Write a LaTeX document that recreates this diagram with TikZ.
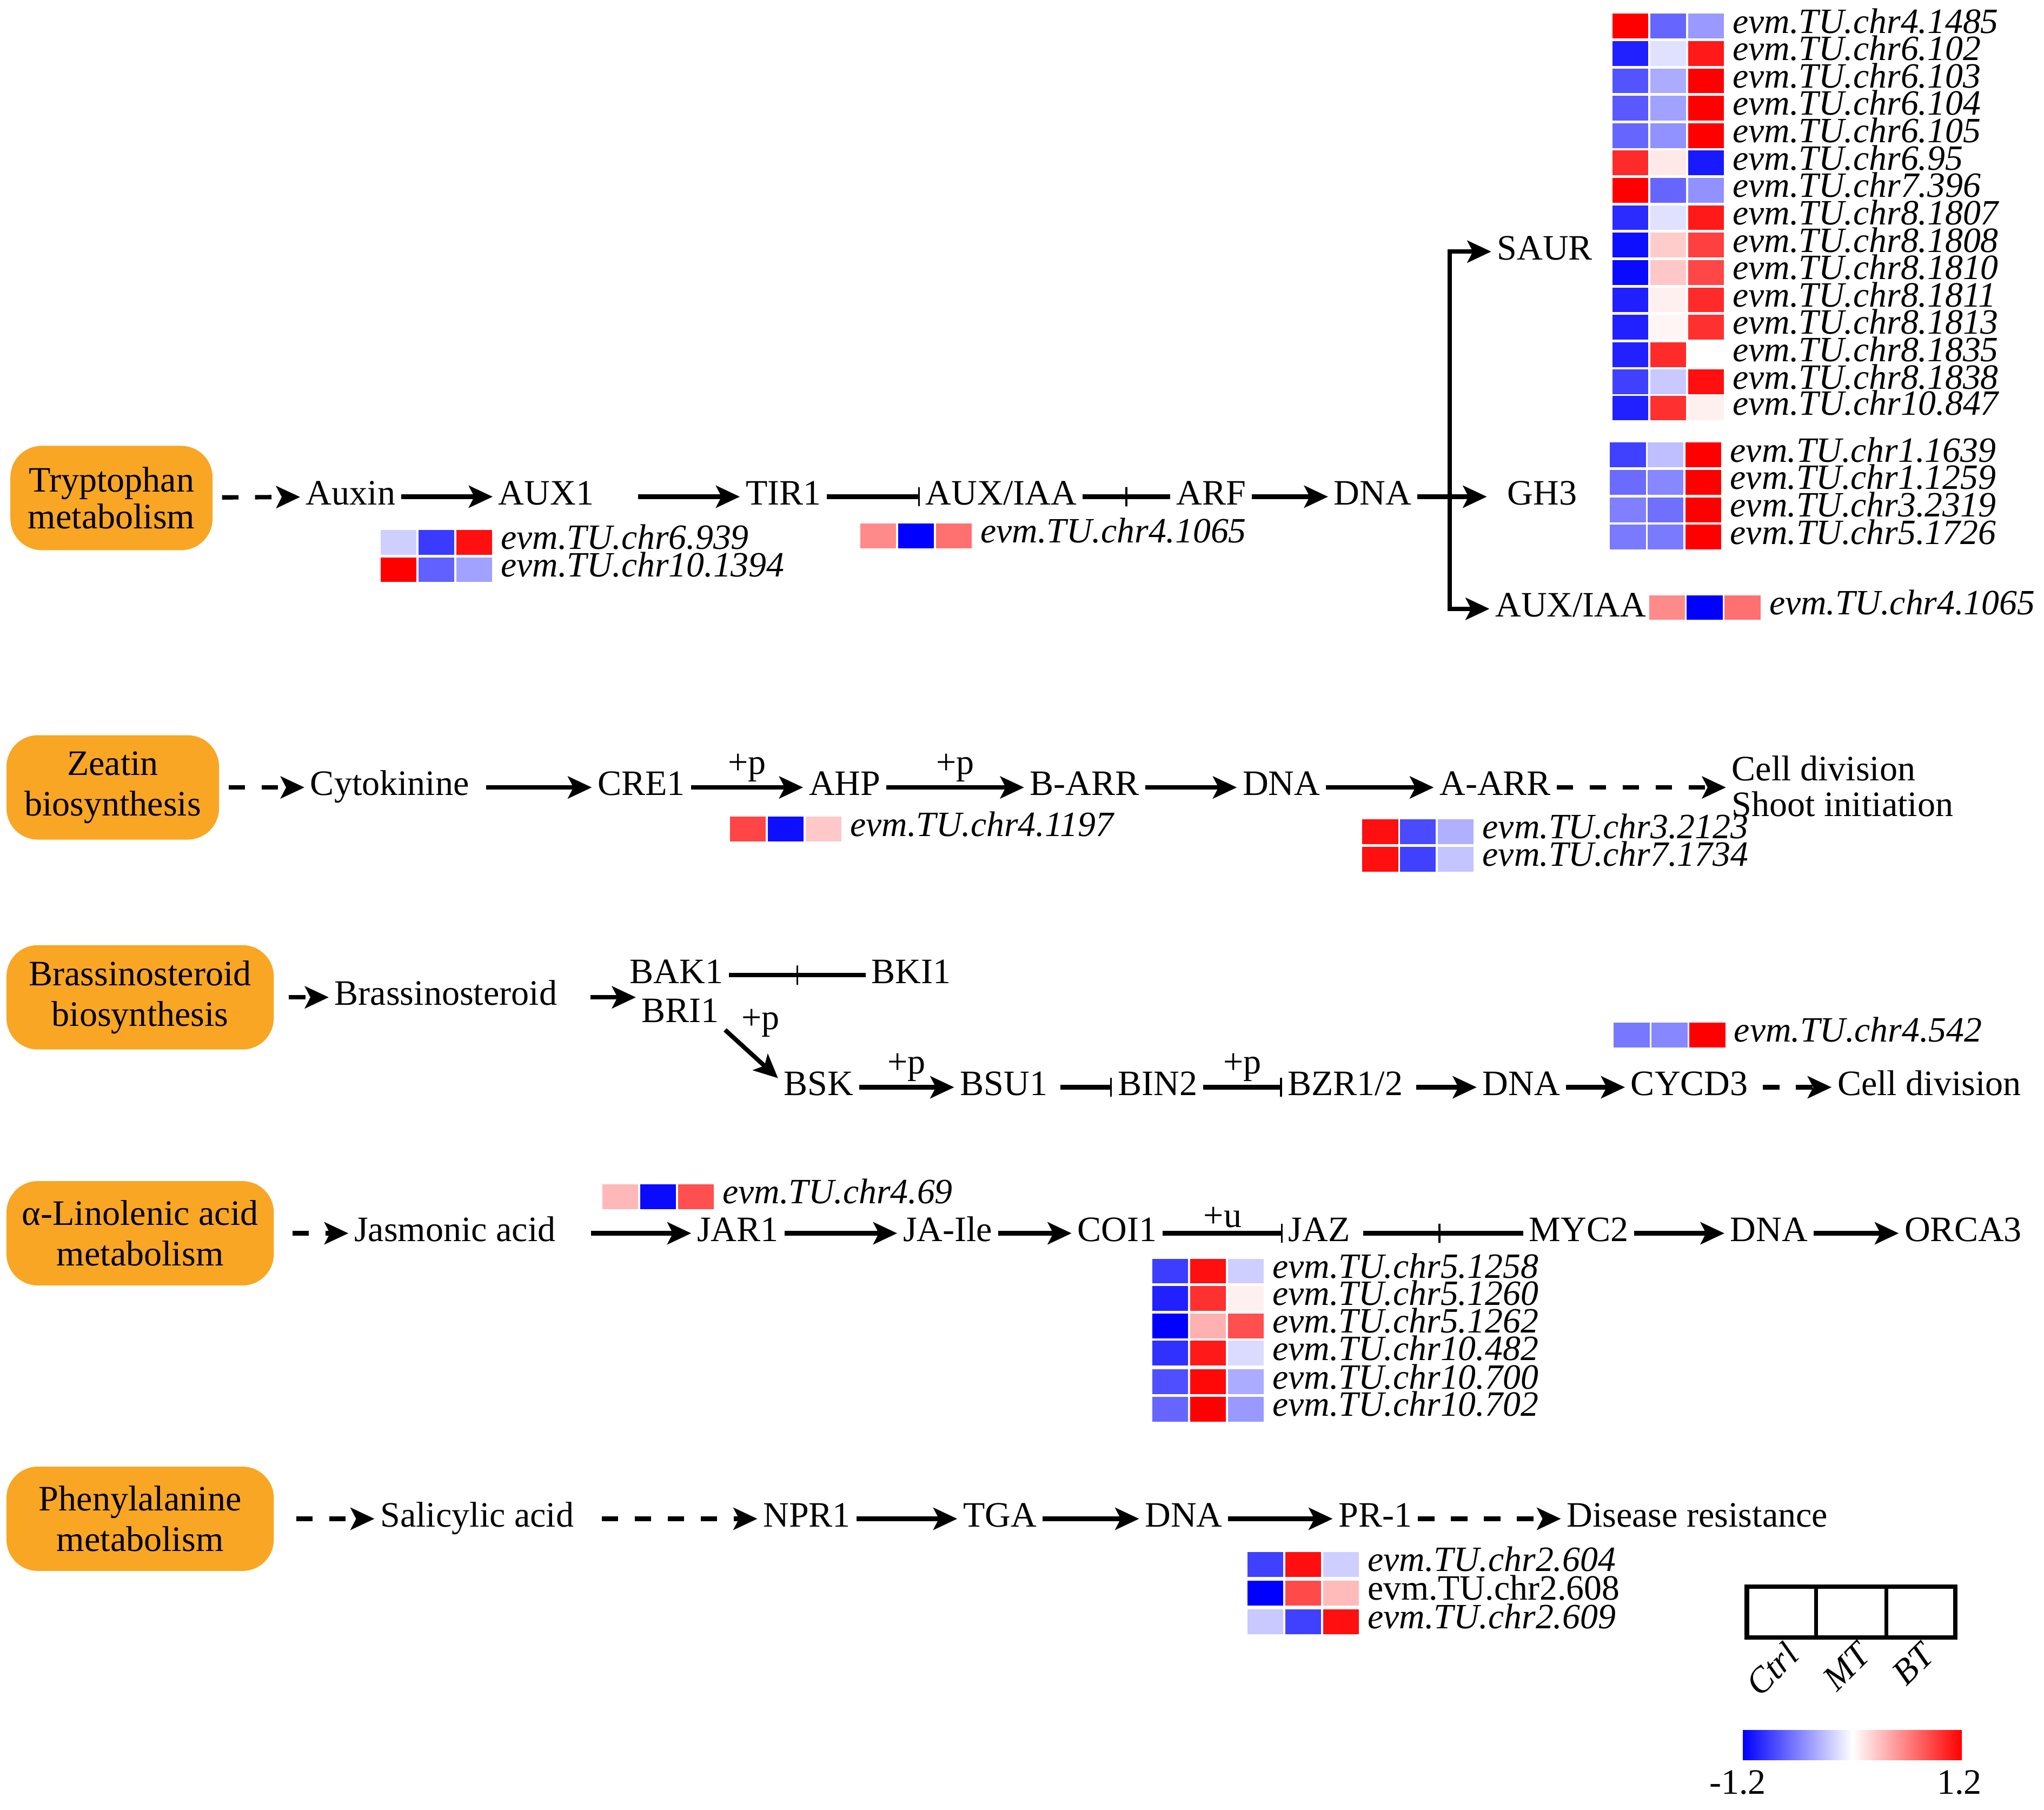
\documentclass[tikz,border=0pt]{standalone}
\usepackage{fontspec}
\setmainfont{Liberation Serif}
\usetikzlibrary{arrows.meta,calc}
\definecolor{boxorange}{RGB}{248,166,36}

% one heatmap row: x, y, three colours, node name, gene label
\newcommand{\hmrow}[7]{%
  \fill[#3] (#1,#2-9.5) rectangle +(27.5,19);
  \fill[#4] (#1+29,#2-9.5) rectangle +(27.5,19);
  \fill[#5] (#1+58,#2-9.5) rectangle +(27.5,19);
  \node[gene] (#6) at (#1+92,#2) {#7};
}

\tikzset{
  every node/.style={font=\fontsize{19.5}{22}\selectfont},
  lbl/.style={inner sep=3pt, text height=2.2ex, text depth=.3ex},
  gene/.style={anchor=west, inner sep=0pt, text height=1.9ex, text depth=.25ex,
    font=\fontsize{19.4}{20}\selectfont\itshape},
  pathbox/.style={fill=boxorange, rounded corners=0.6cm, minimum width=5.125cm,
    minimum height=2cm, align=center, inner sep=2pt},
  act/.style={line width=2.4pt, -{Stealth[length=13pt,width=12pt,inset=3pt]}},
  dashact/.style={act, dash pattern=on 9pt off 9pt},
  inh/.style={line width=2.4pt, -{Bar[width=10.5pt,line width=1pt]}},
  bind/.style={line width=2.4pt},
  tickbar/.style={draw, line width=1pt, inner sep=0pt, minimum width=0pt, minimum height=10.5pt},
  plab/.style={above=1pt, inner sep=1pt},
}

\begin{document}
\begin{tikzpicture}[x=0.025cm, y=-0.025cm]
  \useasboundingbox (0,0) rectangle (1568,1388);

  % Tryptophan metabolism
  \node[pathbox, minimum width=3.875cm, font=\fontsize{19.5}{20}\selectfont] (tryp) at (85.5,382) {Tryptophan\\metabolism};
  \node[lbl] (auxin) at (269,381) {Auxin};
  \node[lbl] (aux1) at (419,381) {AUX1};
  \node[lbl] (tir1) at (601,381) {TIR1};
  \node[lbl] (auxiaa) at (768,381) {AUX/IAA};
  \node[lbl] (arf) at (929,381) {ARF};
  \node[lbl] (dna1) at (1053,381) {DNA};
  \node[lbl] (saur) at (1185,193) {SAUR};
  \node[lbl] (gh3) at (1183,381) {GH3};
  \node[lbl] (auxiaab) at (1205,467) {AUX/IAA};
  \coordinate (jn) at (1112,381);

  \draw[dashact, shorten <=5pt] (tryp) -- (auxin);
  \draw[act] (auxin) -- (aux1);
  \draw[act, shorten <=21pt] (aux1) -- (tir1);
  \draw[inh] (tir1) -- (auxiaa);
  \draw[bind] (auxiaa) -- (arf) node[midway, tickbar] (t1) {};
  \draw[act] (arf) -- (dna1);
  \draw[act, shorten >=8pt] (dna1) -- (gh3);
  \draw[act] (jn |- auxiaab) -- (jn |- saur) -- (saur);
  \draw[act, line cap=rect] (jn |- auxiaab) -- (auxiaab);

  \hmrow{292}{416}{blue!19}{blue!77}{red!94}{ga1}{evm.TU.chr6.939}
  \hmrow{292}{437}{red}{blue!62}{blue!37}{ga2}{evm.TU.chr10.1394}
  \hmrow{660}{411}{red!46}{blue}{red!56}{gi1}{evm.TU.chr4.1065}
  \hmrow{1265}{466}{red!46}{blue}{red!56}{gi2}{evm.TU.chr4.1065}

  \hmrow{1237}{20}{red}{blue!60}{blue!40}{s1}{evm.TU.chr4.1485}
  \hmrow{1237}{41}{blue!87}{blue!12}{red!90}{s2}{evm.TU.chr6.102}
  \hmrow{1237}{62}{blue!67}{blue!33}{red}{s3}{evm.TU.chr6.103}
  \hmrow{1237}{83}{blue!65}{blue!37}{red}{s4}{evm.TU.chr6.104}
  \hmrow{1237}{104}{blue!60}{blue!43}{red}{s5}{evm.TU.chr6.105}
  \hmrow{1237}{125}{red!83}{red!9}{blue!90}{s6}{evm.TU.chr6.95}
  \hmrow{1237}{146}{red}{blue!60}{blue!43}{s7}{evm.TU.chr7.396}
  \hmrow{1237}{167}{blue!83}{blue!12}{red!90}{s8}{evm.TU.chr8.1807}
  \hmrow{1237}{188}{blue!94}{red!20}{red!75}{s9}{evm.TU.chr8.1808}
  \hmrow{1237}{209}{blue!96}{red!22}{red!72}{s10}{evm.TU.chr8.1810}
  \hmrow{1237}{230}{blue!88}{red!6}{red!83}{s11}{evm.TU.chr8.1811}
  \hmrow{1237}{251}{blue!87}{red!4}{red!81}{s12}{evm.TU.chr8.1813}
  \hmrow{1237}{272}{blue!87}{red!83}{white}{s13}{evm.TU.chr8.1835}
  \hmrow{1237}{293}{blue!75}{blue!21}{red!94}{s14}{evm.TU.chr8.1838}
  \hmrow{1237}{313}{blue!87}{red!81}{red!6}{s15}{evm.TU.chr10.847}

  \hmrow{1235}{349}{blue!75}{blue!25}{red}{h1}{evm.TU.chr1.1639}
  \hmrow{1235}{370}{blue!58}{blue!47}{red}{h2}{evm.TU.chr1.1259}
  \hmrow{1235}{391}{blue!50}{blue!56}{red}{h3}{evm.TU.chr3.2319}
  \hmrow{1235}{412}{blue!52}{blue!52}{red}{h4}{evm.TU.chr5.1726}

  % Zeatin biosynthesis
  \node[pathbox, minimum width=4.075cm] (zeat) at (86.5,604) {Zeatin\\biosynthesis};
  \node[lbl] (cytok) at (299,604) {Cytokinine};
  \node[lbl] (cre1) at (492,604) {CRE1};
  \node[lbl] (ahp) at (648,604) {AHP};
  \node[lbl] (barr) at (832,604) {B-ARR};
  \node[lbl] (dna2) at (983,604) {DNA};
  \node[lbl] (aarr) at (1147,604) {A-ARR};
  \node[anchor=west, align=left, inner sep=3pt, font=\fontsize{19.5}{19.5}\selectfont] (celldiv) at (1324,603) {Cell division\\Shoot initiation};

  \draw[dashact, shorten <=5pt] (zeat) -- (cytok);
  \draw[act, shorten <=6pt] (cytok) -- (cre1);
  \draw[act] (cre1) -- (ahp) node[midway, plab] (p1) {+p};
  \draw[act] (ahp) -- (barr) node[midway, plab] (p2) {+p};
  \draw[act] (barr) -- (dna2);
  \draw[act] (dna2) -- (aarr);
  \draw[dashact] (aarr) -- (aarr -| celldiv.west);

  \hmrow{560}{636}{red!73}{blue!94}{red!21}{ah1}{evm.TU.chr4.1197}
  \hmrow{1045}{638}{red!94}{blue!71}{blue!31}{aa1}{evm.TU.chr3.2123}
  \hmrow{1045}{659}{red!94}{blue!75}{blue!23}{aa2}{evm.TU.chr7.1734}

  % Brassinosteroid biosynthesis
  \node[pathbox] (bras) at (107.5,765) {Brassinosteroid\\biosynthesis};
  \node[lbl] (brass) at (342,765) {Brassinosteroid};
  \node[lbl] (bak1) at (519,748) {BAK1};
  \node[lbl] (bri1) at (522,778) {BRI1};
  \node[lbl] (bki1) at (699,748) {BKI1};
  \node[lbl] (bsk) at (628,834) {BSK};
  \node[lbl] (bsu1) at (770,834) {BSU1};
  \node[lbl] (bin2) at (888,834) {BIN2};
  \node[lbl] (bzr) at (1032,834) {BZR1/2};
  \node[lbl] (dna3) at (1167,834) {DNA};
  \node[lbl] (cycd3) at (1296,834) {CYCD3};
  \node[lbl] (celldiv3) at (1480,834) {Cell division};

  \draw[dashact, shorten <=8pt] (bras) -- (brass);
  \draw[act, shorten <=15pt] (brass) -- (brass -| bri1.west);
  \draw[bind] (bak1) -- (bki1) node[midway, tickbar] (t2) {};
  \draw[act] ($(bri1.east)+(0,12)$) -- ($(bsk.west)+(0,-7)$) node[pos=.05, right=3pt, yshift=5pt] (p3) {+p};
  \draw[act] (bsk) -- (bsu1) node[midway, plab] (p4) {+p};
  \draw[inh, shorten <=4pt] (bsu1) -- (bin2);
  \draw[inh] (bin2) -- (bzr) node[midway, plab] (p5) {+p};
  \draw[act, shorten <=4pt] (bzr) -- (dna3);
  \draw[act] (dna3) -- (cycd3);
  \draw[dashact, shorten <=5pt] (cycd3) -- (celldiv3);

  \hmrow{1238}{794}{blue!53}{blue!47}{red}{cy1}{evm.TU.chr4.542}

  % alpha-Linolenic acid metabolism
  \node[pathbox] (lin) at (107.5,946) {α-Linolenic acid\\metabolism};
  \node[lbl] (jasm) at (349,946) {Jasmonic acid};
  \node[lbl] (jar1) at (566,946) {JAR1};
  \node[lbl] (jaile) at (727,946) {JA-Ile};
  \node[lbl] (coi1) at (857,946) {COI1};
  \node[lbl] (jaz) at (1012,946) {JAZ};
  \node[lbl] (myc2) at (1211,946) {MYC2};
  \node[lbl] (dna4) at (1357,946) {DNA};
  \node[lbl] (orca3) at (1506,946) {ORCA3};

  \draw[dashact, shorten <=10pt] (lin) -- (jasm);
  \draw[act, shorten <=16pt] (jasm) -- (jar1);
  \draw[act] (jar1) -- (jaile);
  \draw[act] (jaile) -- (coi1);
  \draw[inh] (coi1) -- (jaz) node[midway, plab] (u1) {+u};
  \draw[bind, shorten <=4pt] (jaz) -- (myc2) node[midway, tickbar] (t3) {};
  \draw[act] (myc2) -- (dna4);
  \draw[act] (dna4) -- (orca3);

  \hmrow{462}{918}{red!28}{blue!96}{red!69}{ja1}{evm.TU.chr4.69}
  \hmrow{884}{975}{blue!76}{red!94}{blue!19}{c1}{evm.TU.chr5.1258}
  \hmrow{884}{996}{blue!87}{red!81}{red!6}{c2}{evm.TU.chr5.1260}
  \hmrow{884}{1017}{blue}{red!31}{red!69}{c3}{evm.TU.chr5.1262}
  \hmrow{884}{1038}{blue!81}{red!90}{blue!14}{c4}{evm.TU.chr10.482}
  \hmrow{884}{1060}{blue!69}{red!97}{blue!33}{c5}{evm.TU.chr10.700}
  \hmrow{884}{1081}{blue!60}{red}{blue!40}{c6}{evm.TU.chr10.702}

  % Phenylalanine metabolism
  \node[pathbox] (phe) at (107.5,1165) {Phenylalanine\\metabolism};
  \node[lbl] (sal) at (366,1165) {Salicylic acid};
  \node[lbl] (npr1) at (619,1165) {NPR1};
  \node[lbl] (tga) at (767,1165) {TGA};
  \node[lbl] (dna5) at (908,1165) {DNA};
  \node[lbl] (pr1) at (1055,1165) {PR-1};
  \node[lbl] (dis) at (1302,1165) {Disease resistance};

  \draw[dashact, shorten <=12pt] (phe) -- (sal);
  \draw[dashact, shorten <=12pt] (sal) -- (npr1);
  \draw[act] (npr1) -- (tga);
  \draw[act] (tga) -- (dna5);
  \draw[act] (dna5) -- (pr1);
  \draw[dashact] (pr1) -- (dis);

  \hmrow{957}{1200}{blue!75}{red!94}{blue!19}{pr1a}{evm.TU.chr2.604}
  \hmrow{957}{1222}{blue}{red!71}{red!27}{pr1b}{\upshape evm.TU.chr2.608}
  \hmrow{957}{1244}{blue!21}{blue!75}{red!94}{pr1c}{evm.TU.chr2.609}

  % legend
  \draw[line width=2.5pt] (1340,1217) rectangle (1500,1256);
  \draw[line width=2pt] (1393,1217) -- (1393,1256) (1447,1217) -- (1447,1256);
  \node[gene, anchor=center, rotate=45] (ctrl) at (1362,1283) {Ctrl};
  \node[gene, anchor=center, rotate=45] (mt) at (1419,1281) {MT};
  \node[gene, anchor=center, rotate=45] (bt) at (1470,1279) {BT};
  \shade[left color=blue, right color=red, middle color=white] (1337,1327) rectangle (1505,1350);
  \node[lbl] (lo) at (1333,1370) {-1.2};
  \node[lbl] (hi) at (1503,1370) {1.2};
\end{tikzpicture}
\end{document}
